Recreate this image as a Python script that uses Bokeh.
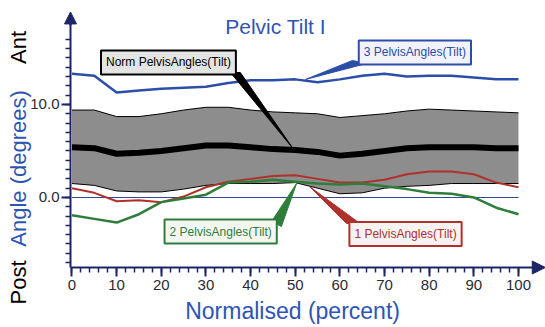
import math
from bokeh.plotting import figure
from bokeh.models import (Range1d, FixedTicker, PrintfTickFormatter, Label, Arrow, NormalHead)
from bokeh.embed import file_html
from bokeh.resources import INLINE

# ---- data (percent of cycle, degrees) ----
pct = [0, 5, 10, 15, 20, 25, 30, 35, 40, 45, 50, 55, 60, 65, 70, 75, 80, 85, 90, 95, 100]
norm_upper = [9.4, 9.4, 8.7, 8.7, 9.0, 9.4, 9.7, 9.7, 9.4, 9.2, 9.1, 9.0, 8.6, 8.8, 9.0, 9.3, 9.5, 9.4, 9.3, 9.2, 9.1]
norm_mean  = [5.4, 5.3, 4.7, 4.8, 5.0, 5.3, 5.6, 5.6, 5.4, 5.2, 5.1, 4.9, 4.5, 4.7, 5.0, 5.3, 5.4, 5.4, 5.4, 5.3, 5.3]
norm_lower = [1.5, 1.3, 0.7, 0.6, 0.6, 0.9, 1.3, 1.5, 1.5, 1.5, 1.6, 1.0, 0.4, 0.5, 1.0, 1.2, 1.3, 1.5, 1.5, 1.5, 1.5]
tilt_1 = [1.0, 0.5, -0.4, -0.3, -0.5, 0.1, 1.1, 1.7, 2.0, 2.3, 2.4, 2.0, 1.6, 1.6, 1.9, 2.5, 2.8, 2.8, 2.5, 1.6, 1.1]
tilt_2 = [-1.9, -2.3, -2.7, -1.8, -0.5, -0.1, 0.3, 1.6, 1.7, 1.9, 1.7, 1.5, 1.4, 1.5, 1.2, 0.9, 0.5, 0.4, 0.0, -1.1, -1.8]
tilt_3 = [13.3, 13.1, 11.3, 11.5, 11.7, 11.8, 11.9, 12.3, 12.6, 12.6, 12.7, 12.4, 12.7, 13.1, 13.3, 13.0, 13.1, 13.1, 12.9, 12.7, 12.7]
zero_x = [0, 100]
zero_y = [0, 0]

x_major = list(range(0, 101, 10))
x_minor = list(range(0, 101, 2))
y_major = [0, 10]
y_minor = list(range(-7, 18))

title_text = "Pelvic Tilt I"
x_title = "Normalised (percent)"
y_parts = ["Post", "Angle (degrees)", "Ant"]

# callout labels: text, colour, fill, box centre (x, y), leader triangle xs, ys
callouts = [
    ("Norm PelvisAngles(Tilt)", "black", "#e4e4e4", 21.6, 14.52, [35.5, 37.7, 49.6], [13.44, 13.44, 5.2]),
    ("3 PelvisAngles(Tilt)", "#2b4ea8", "#f2f3fa", 76.8, 15.59, [62.8, 66.0, 52.3], [14.73, 14.41, 12.69]),
    ("2 PelvisAngles(Tilt)", "#2e7d3a", "#f4f6f2", 33.3, -3.66, [44.7, 46.9, 50.3], [-2.58, -3.12, 1.51]),
    ("1 PelvisAngles(Tilt)", "#b0312c", "#f7f3f3", 74.7, -3.92, [61.5, 64.2, 53.2], [-2.80, -2.69, 1.18]),
]

FONT = "Liberation Sans"
NAVY = "#1c2566"
BLUE = "#2d55b5"

X0, X1 = -16.01, 106.05
Y0, Y1 = -13.98, 21.18
AX_X = -0.336   # where the y axis stands
AX_Y = -7.527   # where the x axis stands

p = figure(width=545, height=327, output_backend="svg", toolbar_location=None,
           x_range=Range1d(X0, X1), y_range=Range1d(Y0, Y1),
           min_border_left=0, min_border_right=0, min_border_top=0, min_border_bottom=0,
           title=None)
p.outline_line_color = None
p.xgrid.visible = False
p.ygrid.visible = False
p.background_fill_color = "white"
p.border_fill_color = "white"

for ax in (p.xaxis[0], p.yaxis[0]):
    ax.axis_line_color = NAVY
    ax.axis_line_width = 2
    ax.major_tick_line_color = NAVY
    ax.minor_tick_line_color = NAVY
    ax.major_tick_line_width = 2
    ax.minor_tick_line_width = 1.5
    ax.major_tick_in = 0
    ax.minor_tick_in = 0
    ax.major_tick_out = 9
    ax.minor_tick_out = 5
    ax.major_label_text_font = FONT
    ax.major_label_text_font_size = "15px"
    ax.major_label_text_color = "#2a2a35"

p.xaxis.fixed_location = AX_Y
p.yaxis.fixed_location = AX_X
p.xaxis.bounds = (AX_X, 104.5)
p.yaxis.bounds = (AX_Y, 19.6)
p.xaxis.ticker = FixedTicker(ticks=x_major, minor_ticks=x_minor)
p.yaxis.ticker = FixedTicker(ticks=y_major, minor_ticks=y_minor)
p.yaxis.formatter = PrintfTickFormatter(format="%.1f")
p.xaxis.major_label_standoff = 4
p.yaxis.major_label_standoff = 2

# norm band
p.varea(x=pct, y1=norm_lower, y2=norm_upper, fill_color="#8d8d8d")
p.line(pct, norm_upper, line_color="black", line_width=1)
p.line(pct, norm_lower, line_color="black", line_width=1)
p.line(zero_x, zero_y, line_color="#34479a", line_width=1.2)
p.line(pct, norm_mean, line_color="black", line_width=6)
p.line(pct, tilt_1, line_color="#b0312c", line_width=2)
p.line(pct, tilt_2, line_color="#2e7d3a", line_width=2.5)
p.line(pct, tilt_3, line_color="#2b4ea8", line_width=2.5)

# leaders and callout boxes
for text, col, bg, cx, cy, lx, ly in callouts:
    p.patch(lx, ly, fill_color=col, line_color=col, line_width=1)
for text, col, bg, cx, cy, lx, ly in callouts:
    p.add_layout(Label(x=cx, y=cy, text=text, text_align="center", text_baseline="middle",
                       text_font=FONT, text_font_size="12px", text_color=col,
                       background_fill_color=bg, border_line_color=col, border_line_width=2,
                       padding=5))

# axis arrow heads
p.add_layout(Arrow(x_start=103.0, y_start=AX_Y, x_end=106.0, y_end=AX_Y,
                   line_color=NAVY, line_width=2,
                   end=NormalHead(size=13, fill_color=NAVY, line_color=NAVY)))
p.add_layout(Arrow(x_start=AX_X, y_start=18.5, x_end=AX_X, y_end=19.95,
                   line_color=NAVY, line_width=2,
                   end=NormalHead(size=12, fill_color=NAVY, line_color=NAVY)))

# titles
p.add_layout(Label(x=45.6, y=18.35, text=title_text, text_align="center", text_baseline="middle",
                   text_font=FONT, text_font_size="21px", text_color=BLUE))
p.add_layout(Label(x=49.4, y=-12.25, text=x_title, text_align="center", text_baseline="middle",
                   text_font=FONT, text_font_size="23px", text_color=BLUE))
y_pos = [-9.14, 3.12, 16.13]
y_cols = ["black", BLUE, "black"]
for t, yy, c in zip(y_parts, y_pos, y_cols):
    p.add_layout(Label(x=-12.0, y=yy, text=t, angle=math.pi / 2, text_align="center",
                       text_baseline="middle", text_font=FONT, text_font_size="22px", text_color=c))

open("out.html", "w").write(file_html(p, INLINE))
